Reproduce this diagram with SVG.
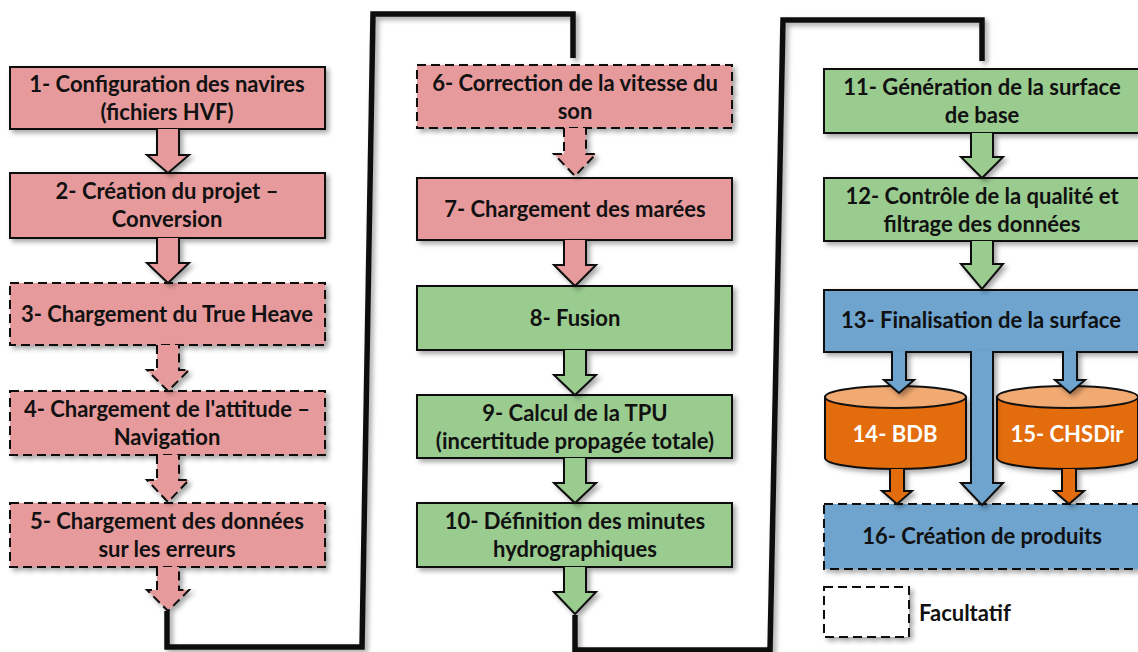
<svg xmlns="http://www.w3.org/2000/svg" width="1138" height="652" viewBox="0 0 1138 652">
<defs>
<filter id="sh" x="-10%" y="-10%" width="130%" height="140%">
<feDropShadow dx="3" dy="3" stdDeviation="2.5" flood-color="#000" flood-opacity="0.35"/>
</filter>
<style>
.box{stroke:#111;stroke-width:2;filter:url(#sh)}
.dash{stroke-dasharray:9,5}
.pink{fill:#E69A9B}
.green{fill:#9ACB8F}
.blue{fill:#6EA4CE}
.orange{fill:#E36C0B}
.otop{fill:#F1AA72}
.arr{stroke:#111;stroke-width:2;stroke-linejoin:miter;filter:url(#sh)}
.t{font-family:Lato,"Liberation Sans",sans-serif;font-weight:700;font-size:22px;fill:#111;text-anchor:middle}
.w{fill:#fff}
.conn{fill:none;stroke:#111;stroke-width:5.5;stroke-linejoin:miter;filter:url(#sh)}
</style>
</defs>
<rect width="1138" height="652" fill="#fff"/>

<g id="connectors">
<polyline class="conn" points="167,611 167,647 362,647 373,14 573,14 573,58"/>
<polyline class="conn" points="575,615 575,650 770,650 783,20 982,20 982,61"/>
</g>

<g id="n1"><rect class="box pink" x="10" y="67" width="315" height="62"/><text class="t" x="167" y="92">1- Configuration des navires</text><text class="t" x="167" y="120">(fichiers HVF)</text></g>
<g id="n2"><rect class="box pink" x="10" y="173" width="315" height="65"/><text class="t" x="167" y="199">2- Création du projet –</text><text class="t" x="167" y="227">Conversion</text></g>
<g id="n3"><rect class="box pink dash" x="10" y="283" width="315" height="62"/><text class="t" x="167" y="322">3- Chargement du True Heave</text></g>
<g id="n4"><rect class="box pink dash" x="10" y="391" width="315" height="64"/><text class="t" x="167" y="417">4- Chargement de l'attitude –</text><text class="t" x="167" y="445">Navigation</text></g>
<g id="n5"><rect class="box pink dash" x="10" y="503" width="315" height="64"/><text class="t" x="167" y="529">5- Chargement des données</text><text class="t" x="167" y="557">sur les erreurs</text></g>

<g id="n6"><rect class="box pink dash" x="417" y="65" width="315" height="63"/><text class="t" x="575" y="91">6- Correction de la vitesse du</text><text class="t" x="575" y="119">son</text></g>
<g id="n7"><rect class="box pink" x="417" y="178" width="315" height="62"/><text class="t" x="575" y="217">7- Chargement des marées</text></g>
<g id="n8"><rect class="box green" x="417" y="286" width="315" height="64"/><text class="t" x="575" y="326">8- Fusion</text></g>
<g id="n9"><rect class="box green" x="417" y="395" width="315" height="63"/><text class="t" x="575" y="421">9- Calcul de la TPU</text><text class="t" x="575" y="449">(incertitude propagée totale)</text></g>
<g id="n10"><rect class="box green" x="417" y="503" width="315" height="64"/><text class="t" x="575" y="529">10- Définition des minutes</text><text class="t" x="575" y="557">hydrographiques</text></g>

<g id="n11"><rect class="box green" x="824" y="69" width="318" height="64"/><text class="t" x="982" y="95">11- Génération de la surface</text><text class="t" x="982" y="123">de base</text></g>
<g id="n12"><rect class="box green" x="824" y="178" width="318" height="63"/><text class="t" x="982" y="204">12- Contrôle de la qualité et</text><text class="t" x="982" y="232">filtrage des données</text></g>
<g id="n13"><rect class="box blue" x="824" y="290" width="318" height="62"/><text class="t" x="981" y="328">13- Finalisation de la surface</text></g>
<g id="n16"><rect class="box blue dash" x="824" y="504" width="318" height="65"/><text class="t" x="982" y="544">16- Création de produits</text></g>

<g id="n14">
<path class="box orange" d="M825,397 V458 A70.5,11 0 0 0 966,458 V397 Z"/>
<ellipse class="otop" cx="895.5" cy="397" rx="70.5" ry="11" stroke="#111" stroke-width="2"/>
<text class="t w" x="895" y="442">14- BDB</text>
</g>
<g id="n15">
<path class="box orange" d="M997,397 V458 A70.5,11 0 0 0 1138,458 V397 Z"/>
<ellipse class="otop" cx="1067.5" cy="397" rx="70.5" ry="11" stroke="#111" stroke-width="2"/>
<text class="t w" x="1067" y="442">15- CHSDir</text>
</g>

<g id="arrows">
<path class="arr pink" d="M157,129 V155 H147 L168,173 L189,155 H179 V129"/>
<path class="arr pink" d="M157,238 V263 H147 L168,283 L189,263 H179 V238"/>
<path class="arr pink dash" d="M157,345 V370 H147 L168,391 L189,370 H179 V345"/>
<path class="arr pink dash" d="M157,455 V480 H147 L168,502 L189,480 H179 V455"/>
<path class="arr pink dash" d="M157,567 V590 H147 L168,611 L189,590 H179 V567"/>

<path class="arr pink dash" d="M564,128 V154 H554 L575,176 L596,154 H586 V128"/>
<path class="arr pink" d="M564,240 V265 H554 L575,286 L596,265 H586 V240"/>
<path class="arr green" d="M564,350 V375 H554 L575,395 L596,375 H586 V350"/>
<path class="arr green" d="M564,458 V483 H554 L575,503 L596,483 H586 V458"/>
<path class="arr green" d="M564,567 V592 H554 L575,614 L596,592 H586 V567"/>

<path class="arr green" d="M971,133 V157 H961 L982,178 L1003,157 H993 V133"/>
<path class="arr green" d="M971,241 V264 H961 L982,289 L1003,264 H993 V241"/>

<path class="arr blue" d="M971,351 V483 H961 L982,505 L1003,483 H993 V351"/>
<path class="arr blue" d="M892,351 V380 H884 L899,393 L914,380 H906 V351"/>
<path class="arr blue" d="M1063,351 V380 H1055 L1070,393 L1085,380 H1077 V351"/>

<path class="arr orange" d="M890,469 V491 H882 L897,504 L912,491 H904 V469"/>
<path class="arr orange" d="M1062,469 V491 H1054 L1069,504 L1084,491 H1076 V469"/>
</g>

<g id="legend">
<rect x="824" y="587" width="85" height="50" fill="#fff" stroke="#111" stroke-width="2" stroke-dasharray="9,5" filter="url(#sh)"/>
<text class="t" x="919" y="621" style="text-anchor:start">Facultatif</text>
</g>
</svg>
